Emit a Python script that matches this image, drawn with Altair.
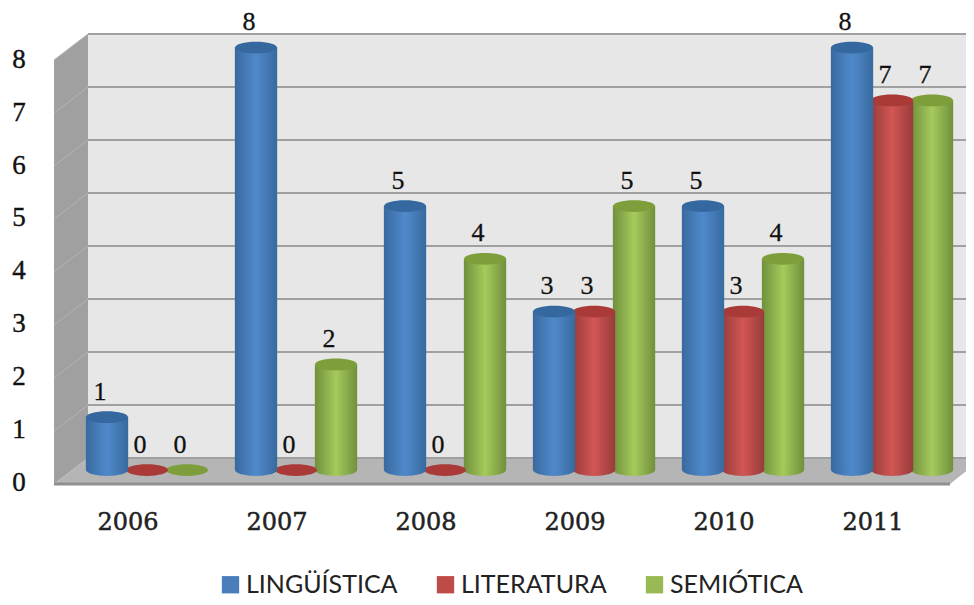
import altair as alt
import pandas as pd

YEARS = ["2006", "2007", "2008", "2009", "2010", "2011"]
SERIES = ["LINGÜÍSTICA", "LITERATURA", "SEMIÓTICA"]
LINGUISTICA = [1, 8, 5, 3, 5, 8]
LITERATURA = [0, 0, 0, 3, 3, 7]
SEMIOTICA = [0, 2, 4, 5, 4, 7]
Y_TICKS = [0, 1, 2, 3, 4, 5, 6, 7, 8]

# palette: (edge, centre, cap, legend)
STYLE = {
    "LINGÜÍSTICA": ("#386a9f", "#5089cb", "#34689f", "#4a7ebb"),
    "LITERATURA": ("#973c3a", "#d25655", "#a93a38", "#be4b48"),
    "SEMIÓTICA": ("#70903c", "#a6ca5c", "#7d9e3a", "#98b954"),
}
VALUES = {"LINGÜÍSTICA": LINGUISTICA, "LITERATURA": LITERATURA, "SEMIÓTICA": SEMIOTICA}

# scales: x unit = one year group, y unit = one value step on the plane of the bars
W, H = 958, 589
XMIN, XMAX = -0.933, -0.933 + W / 149
YMIN, YMAX = -2.405, 8.75
OFFSET = {"LINGÜÍSTICA": -0.2685, "LITERATURA": 0.0, "SEMIÓTICA": 0.2685}
BAR_HALF = 0.142

xs = alt.Scale(domain=[XMIN, XMAX], nice=False, zero=False)
ys = alt.Scale(domain=[YMIN, YMAX], nice=False, zero=False)
X = lambda f: alt.X(f, type="quantitative", scale=xs, axis=None)
Y = lambda f: alt.Y(f, type="quantitative", scale=ys, axis=None)
X2 = lambda f: alt.X2(f)
Y2 = lambda f: alt.Y2(f)

# box geometry, in scale units
BACK_X, FRONT_X = -0.396, -0.624
BACK_Y, FRONT_Y = 0.227, -0.265
STEP = 53 / 52.8
TOP_BACK = BACK_Y + 8 * STEP
TOP_FRONT = FRONT_Y + 8 * STEP
RIGHT_FRONT = 5.389
RIGHT_BACK = 5.61

rows = []
for s in SERIES:
    for i, v in enumerate(VALUES[s]):
        cx = i + OFFSET[s]
        rows.append(dict(series=s, year=YEARS[i], v=v, cx=cx, x0=cx - BAR_HALF, x1=cx + BAR_HALF,
                         lx=cx - 0.047, ly=v + 0.48))
df = pd.DataFrame(rows)

wall = alt.Chart(pd.DataFrame([dict(a=BACK_X, b=RIGHT_BACK, c=BACK_Y, d=TOP_BACK)])).mark_rect(
    color="#e7e7e7").encode(x=X("a"), x2=X2("b"), y=Y("c"), y2=Y2("d"))

side = alt.Chart(pd.DataFrame([dict(x=FRONT_X, a=TOP_FRONT, b=FRONT_Y), dict(x=BACK_X, a=TOP_BACK, b=BACK_Y)])).mark_area(
    color="#a0a0a0").encode(x=X("x"), y=Y("a"), y2=Y2("b"))

floor = alt.Chart(pd.DataFrame([dict(y=BACK_Y, a=BACK_X, b=RIGHT_BACK), dict(y=FRONT_Y, a=FRONT_X, b=RIGHT_FRONT)])).mark_area(
    color="#b5b5b5", orient="horizontal").encode(y=Y("y"), x=X("a"), x2=X2("b"))

front_edge = alt.Chart(pd.DataFrame([dict(a=FRONT_X, b=RIGHT_FRONT, y=FRONT_Y)])).mark_rule(
    color="#8f8f8f", strokeWidth=3).encode(x=X("a"), x2=X2("b"), y=Y("y"))

grid_df = pd.DataFrame([dict(v=BACK_Y + t * STEP, f=FRONT_Y + t * STEP, a=BACK_X, b=RIGHT_BACK, c=FRONT_X) for t in Y_TICKS])
grid = alt.Chart(grid_df).mark_rule(color="#a0a0a0", strokeWidth=2).encode(x=X("a"), x2=X2("b"), y=Y("v"))
side_grid = alt.Chart(grid_df[grid_df.v > BACK_Y]).mark_rule(color="#b4b4b4", strokeWidth=1).encode(
    x=X("c"), x2=X2("a"), y=Y("f"), y2=Y2("v"))

ELLIPSE = "M-1,0A1,0.28,0,1,1,1,0A1,0.28,0,1,1,-1,0Z"
ELLIPSE_SIZE = 42 ** 2

def gradient(s):
    e, c, _, _ = STYLE[s]
    return alt.LinearGradient(
        gradient="linear", x1=0, x2=1, y1=0, y2=0,
        stops=[alt.GradientStop(color=e, offset=0), alt.GradientStop(color=c, offset=0.5),
               alt.GradientStop(color=e, offset=1)])

layers = [wall, side, floor, front_edge, grid, side_grid]

for s in reversed(SERIES):
    d = df[df.series == s]
    pos = d[d.v > 0]
    base = alt.Chart(pos).mark_point(shape=ELLIPSE, size=ELLIPSE_SIZE, filled=True, opacity=1,
                                     fill=gradient(s)).encode(x=X("cx"), y=alt.Y("zero:Q", scale=ys, axis=None)).transform_calculate(zero="0")
    body = alt.Chart(pos).mark_bar(color=gradient(s)).encode(
        x=X("x0"), x2=X2("x1"), y=Y("v"), y2=alt.Y2(datum=0))
    cap = alt.Chart(d).mark_point(shape=ELLIPSE, size=ELLIPSE_SIZE, filled=True, opacity=1,
                                  fill=STYLE[s][2]).encode(x=X("cx"), y=Y("v"))
    layers += [base, body, cap]

val_labels = alt.Chart(df).mark_text(font="Liberation Serif", fontSize=26, color="#111111", baseline="middle",
                                     stroke="#111111", strokeWidth=0.3).encode(
    x=X("lx"), y=Y("ly"), text="v:Q")

ytick_df = pd.DataFrame([dict(t=t, y=FRONT_Y + 0.02 + t * (52.9 / 52.8), x=-0.86) for t in Y_TICKS])
ytick_labels = alt.Chart(ytick_df).mark_text(font="Liberation Serif", fontSize=27, color="#111111", baseline="middle",
                                             stroke="#111111", strokeWidth=0.4).encode(
    x=X("x"), y=Y("y"), text="t:Q")

year_df = pd.DataFrame([dict(year=y, x=i - 0.128, y=-1.0) for i, y in enumerate(YEARS)])
year_labels = alt.Chart(year_df).mark_text(font="DejaVu Serif", fontSize=24, color="#222222", baseline="middle",
                                           stroke="#222222", strokeWidth=0.5).encode(
    x=X("x"), y=Y("y"), text="year:N")

legend_df = pd.DataFrame(dict(series=SERIES, x=[0, 0, 0], y=[0, 0, 0]))
legend = alt.Chart(legend_df).mark_square(size=0, opacity=1).encode(
    x=X("x"), y=Y("y"),
    color=alt.Color("series:N", scale=alt.Scale(domain=SERIES, range=[STYLE[s][3] for s in SERIES]),
                    legend=alt.Legend(title=None, orient="none", legendX=210, legendY=564, columns=3,
                                      symbolType="square", symbolSize=300, symbolStrokeWidth=0, symbolOpacity=1,
                                      labelFont="Lato", labelFontSize=25, labelColor="#222222",
                                      labelOffset=3, columnPadding=35, labelLimit=300)))

chart = alt.layer(*layers, val_labels, ytick_labels, year_labels, legend).properties(
    width=W, height=H, padding=0, autosize=alt.AutoSizeParams(type="none"),
    background="white",
).configure_view(stroke=None)

chart.save("out.html", embed_options={"renderer": "svg", "actions": False})
